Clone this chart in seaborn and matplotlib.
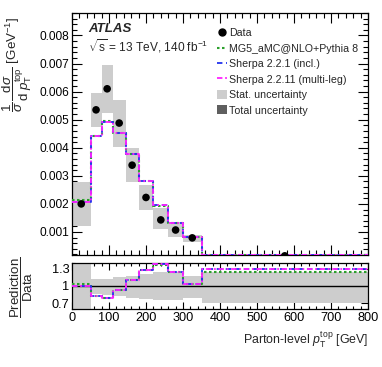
import numpy as np
import pandas as pd
import matplotlib
matplotlib.use("Agg")
import matplotlib.pyplot as plt
from matplotlib.patches import Patch
from matplotlib.lines import Line2D
import seaborn as sns

sns.set_theme(style="ticks")
plt.rcParams['font.family'] = ['Liberation Sans', 'DejaVu Sans']
plt.rcParams['mathtext.fontset'] = 'custom'
plt.rcParams['mathtext.rm'] = 'Liberation Sans'
plt.rcParams['mathtext.it'] = 'Liberation Sans:italic'
plt.rcParams['mathtext.bf'] = 'Liberation Sans:bold'

# ---- data ----
bin_edges = [0, 50, 80, 110, 145, 180, 220, 260, 300, 350, 800]
data_vals = [0.00200, 0.00535, 0.00610, 0.00488, 0.00338, 0.00223, 0.00143, 0.00107, 0.00079, 0.00015]
band_lo = [0.00122, 0.00473, 0.00524, 0.00403, 0.00279, 0.00179, 0.00111, 0.00083, 0.00064, 0.00010]
band_hi = [0.00279, 0.00595, 0.00696, 0.00569, 0.00399, 0.00268, 0.00185, 0.00137, 0.00089, 0.00021]
mg5_vals = [0.00213, 0.00443, 0.00495, 0.00452, 0.00376, 0.00281, 0.00192, 0.00133, 0.00081, 0.00019]
sh221_vals = [0.00206, 0.00443, 0.00492, 0.00452, 0.00376, 0.00281, 0.00195, 0.00133, 0.00081, 0.00019]
sh2211_vals = [0.00206, 0.00443, 0.00492, 0.00452, 0.00376, 0.00281, 0.00195, 0.00133, 0.00081, 0.00019]

ratio_band_lo = [0.55, 0.855, 0.84, 0.82, 0.80, 0.77, 0.76, 0.76, 0.79, 0.71]
ratio_band_hi = [1.45, 1.125, 1.13, 1.15, 1.18, 1.21, 1.24, 1.24, 1.18, 1.25]
mg5_ratio = [1.04, 0.82, 0.80, 0.93, 1.11, 1.27, 1.36, 1.24, 1.04, 1.25]
sh221_ratio = [1.00, 0.82, 0.80, 0.93, 1.11, 1.27, 1.39, 1.24, 1.04, 1.30]
sh2211_ratio = [1.00, 0.82, 0.80, 0.93, 1.11, 1.27, 1.39, 1.24, 1.04, 1.30]

labels = ["Data", "MG5_aMC@NLO+Pythia 8", "Sherpa 2.2.1 (incl.)",
          "Sherpa 2.2.11 (multi-leg)", "Stat. uncertainty", "Total uncertainty"]
x_ticks = [0, 100, 200, 300, 400, 500, 600, 700, 800]
main_yticks = [0.001, 0.002, 0.003, 0.004, 0.005, 0.006, 0.007, 0.008]
ratio_yticks = [0.7, 1.0, 1.3]

# ---- styles ----
c_band = "#cdcdcd"
c_total = "#5f5f5f"
c_green = "#2ca02c"
c_blue = "#2233ee"
c_mag = "#ff22ff"

edges = np.array(bin_edges, dtype=float)
centers = 0.5 * (edges[:-1] + edges[1:])
widths = np.diff(edges)

def step_df(vals):
    return pd.DataFrame({"x": edges, "y": list(vals) + [vals[-1]]})

fig = plt.figure(figsize=(3.82, 3.67), dpi=100)
ax = fig.add_axes([72/382, 1-255/367, 296/382, 242/367])
axr = fig.add_axes([72/382, 1-309/367, 296/382, 46/367])

FS = 8.6

# main bands
ax.bar(edges[:-1], np.array(band_hi) - np.array(band_lo), bottom=band_lo, width=widths,
       align="edge", color=c_band, linewidth=0, zorder=1)

line_kw = dict(estimator=None, sort=False, drawstyle="steps-post", legend=False)
sns.lineplot(data=step_df(mg5_vals), x="x", y="y", ax=ax, color=c_green,
             linestyle=(0, (1.2, 1.2)), linewidth=1.5, zorder=3, **line_kw)
sns.lineplot(data=step_df(sh221_vals), x="x", y="y", ax=ax, color=c_blue,
             linestyle=(0, (3, 2)), linewidth=1.3, zorder=4, **line_kw)
sns.lineplot(data=step_df(sh2211_vals), x="x", y="y", ax=ax, color=c_mag,
             linestyle=(0, (3, 1.5, 1, 1.5)), linewidth=1.3, zorder=5, **line_kw)

sns.scatterplot(x=centers, y=data_vals, ax=ax, color="black", s=30, edgecolor="none",
                zorder=6, legend=False)

ax.set_xlim(0, 800)
ax.set_ylim(0.00018, 0.0088)
ax.set_xlabel("")
ax.set_ylabel("")
ax.set_yticks(main_yticks)
ax.set_yticklabels([f"{v:.3f}" for v in main_yticks], fontsize=FS)
ax.set_xticks(x_ticks)
ax.set_xticklabels([])
ax.xaxis.set_minor_locator(matplotlib.ticker.MultipleLocator(20))
ax.yaxis.set_minor_locator(matplotlib.ticker.MultipleLocator(0.0002))

# ratio
axr.bar(edges[:-1], np.array(ratio_band_hi) - np.array(ratio_band_lo), bottom=ratio_band_lo,
        width=widths, align="edge", color=c_band, linewidth=0, zorder=1)
axr.axhline(1.0, color="black", linewidth=1.0, zorder=2)
sns.lineplot(data=step_df(mg5_ratio), x="x", y="y", ax=axr, color=c_green,
             linestyle=(0, (1.2, 1.2)), linewidth=1.5, zorder=3, **line_kw)
sns.lineplot(data=step_df(sh221_ratio), x="x", y="y", ax=axr, color=c_blue,
             linestyle=(0, (3, 2)), linewidth=1.3, zorder=4, **line_kw)
sns.lineplot(data=step_df(sh2211_ratio), x="x", y="y", ax=axr, color=c_mag,
             linestyle=(0, (3, 1.5, 1, 1.5)), linewidth=1.3, zorder=5, **line_kw)
axr.set_xlim(0, 800)
axr.set_ylim(0.6, 1.4)
axr.set_xlabel("")
axr.set_ylabel("")
axr.set_xticks(x_ticks)
axr.set_xticklabels([str(t) for t in x_ticks], fontsize=FS + 0.6)
axr.set_yticks(ratio_yticks)
axr.set_yticklabels(["0.7", "1", "1.3"], fontsize=FS + 0.6)
axr.xaxis.set_minor_locator(matplotlib.ticker.MultipleLocator(20))
axr.yaxis.set_minor_locator(matplotlib.ticker.MultipleLocator(0.1))

for a in (ax, axr):
    a.tick_params(which="both", direction="in", top=True, right=True, colors="black",
                  width=0.8, pad=2)
    a.tick_params(which="major", length=7)
    a.tick_params(which="minor", length=3.5)
    for s in a.spines.values():
        s.set_linewidth(0.9)
        s.set_color("black")
axr.tick_params(axis="x", which="major", length=5, pad=2)
axr.tick_params(axis="x", which="minor", length=2.5)
axr.tick_params(axis="y", which="major", length=5)
axr.tick_params(axis="y", which="minor", length=2.5)

# texts
ax.text(0.055, 0.935, "ATLAS", transform=ax.transAxes, fontsize=9.5,
        fontweight="bold", fontstyle="italic", va="center")
ax.text(0.055, 0.865, r"$\sqrt{\mathrm{s}}$ = 13 TeV, 140 fb$^{\mathrm{-1}}$",
        transform=ax.transAxes, fontsize=FS, va="center")

fig.text(0.045, 1-17/367,
         r"$\dfrac{1}{\sigma}\,\dfrac{\mathrm{d}\sigma}{\mathrm{d}\;p_{\mathrm{T}}^{\mathrm{top}}}$ [GeV$^{\mathrm{-1}}$]",
         rotation=90, ha="center", va="top", fontsize=FS + 1.0)
fig.text(0.058, 1-287/367, r"$\dfrac{\mathrm{Prediction}}{\mathrm{Data}}$",
         rotation=90, ha="center", va="center", fontsize=FS + 1.0)
fig.text(368/382, 1-340/367, r"Parton-level $p_{\mathrm{T}}^{\mathrm{top}}$ [GeV]",
         ha="right", va="center", fontsize=FS + 0.3)

handles = [
    Line2D([], [], marker="o", color="black", linestyle="none", markersize=5),
    Line2D([], [], color=c_green, linestyle=(0, (1.2, 1.2)), linewidth=1.5),
    Line2D([], [], color=c_blue, linestyle=(0, (3, 2)), linewidth=1.3),
    Line2D([], [], color=c_mag, linestyle=(0, (3, 1.5, 1, 1.5)), linewidth=1.3),
    Patch(facecolor=c_band, edgecolor="none"),
    Patch(facecolor=c_total, edgecolor="none"),
]
leg = ax.legend(handles, labels, loc="upper left", bbox_to_anchor=(0.49, 0.938),
                frameon=False, fontsize=7.7, handlelength=0.9, handleheight=0.9,
                handletextpad=0.25, labelspacing=0.5, borderaxespad=0.0, borderpad=0.0)

fig.savefig("out.png", dpi=100)
